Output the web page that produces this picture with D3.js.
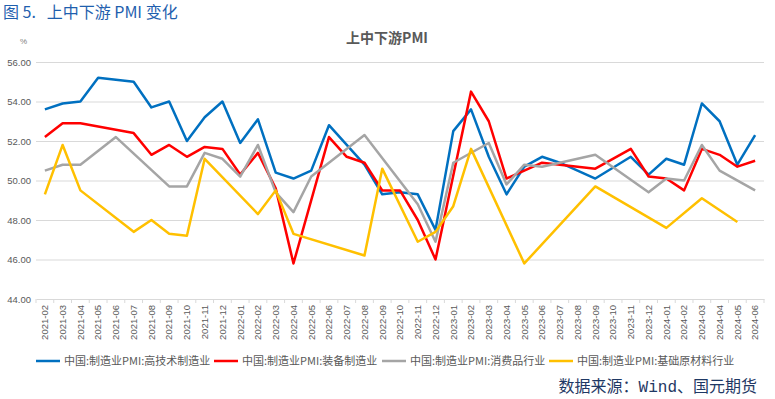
<!DOCTYPE html>
<html>
<head>
<meta charset="utf-8">
<script src="https://cdn.jsdelivr.net/npm/d3@7"></script>
<style>
  body { margin: 0; background: #fff; }
  svg { display: block; }
</style>
</head>
<body>
<div id="chart"></div>
<script>
// months 2021-02 .. 2024-06
const months = [
  "2021-02","2021-03","2021-04","2021-05","2021-06","2021-07","2021-08","2021-09","2021-10","2021-11","2021-12",
  "2022-01","2022-02","2022-03","2022-04","2022-05","2022-06","2022-07","2022-08","2022-09","2022-10","2022-11","2022-12",
  "2023-01","2023-02","2023-03","2023-04","2023-05","2023-06","2023-07","2023-08","2023-09","2023-10","2023-11","2023-12",
  "2024-01","2024-02","2024-03","2024-04","2024-05","2024-06"
];

// null = no value that month (line joins across the gap)
const hiTech = [53.6,53.9,54.0,55.2,null,55.0,53.7,54.0,52.0,53.2,54.0,
  51.9,53.1,50.4,50.1,50.5,52.8,51.8,50.8,49.3,49.4,49.3,47.5,
  52.5,53.6,51.2,49.3,50.7,51.2,50.9,null,50.1,null,51.2,50.3,
  51.1,50.8,53.9,53.0,50.8,52.3];
const equipment = [52.2,52.9,52.9,null,null,52.4,51.3,51.8,51.2,51.7,51.6,
  50.3,51.4,49.6,45.8,null,52.2,51.2,50.9,49.5,49.5,48.0,46.0,
  null,54.5,53.0,50.1,50.5,50.9,50.8,null,50.6,null,51.6,50.2,
  50.1,49.5,51.6,51.3,50.7,51.0];
const consumer = [50.5,50.8,50.8,null,52.2,null,null,49.7,49.7,51.4,51.1,
  50.2,51.8,49.4,48.4,50.2,50.9,null,52.3,null,null,48.8,46.9,
  50.9,null,51.9,49.8,50.8,50.7,null,null,51.3,null,null,49.4,
  50.1,50.0,51.8,50.5,null,49.5];
const rawMaterial = [49.3,51.8,49.5,null,null,47.4,48.0,47.3,47.2,51.1,null,
  null,48.3,49.5,47.3,null,null,null,46.2,50.6,null,46.9,47.4,
  48.7,51.6,null,null,45.8,null,null,null,49.7,null,null,null,
  47.6,null,49.1,null,47.9,null];

const seriesNames = [
  "中国:制造业PMI:高技术制造业",
  "中国:制造业PMI:装备制造业",
  "中国:制造业PMI:消费品行业",
  "中国:制造业PMI:基础原材料行业"
];
const seriesColors = ["#0070c0", "#ff0000", "#a5a5a5", "#ffc000"];
const yTicks = [44, 46, 48, 50, 52, 54, 56];

const W = 775, H = 399;
const plot = {left: 36, right: 764, top: 62, bottom: 299};

const svg = d3.select("#chart").append("svg")
  .attr("width", W).attr("height", H)
  .style("font-family", "'Liberation Sans', 'Noto Sans CJK SC', sans-serif");

const x = d3.scaleBand().domain(months).range([plot.left, plot.right]).paddingInner(0).paddingOuter(0);
const y = d3.scaleLinear().domain([44, 56]).range([plot.bottom, plot.top]);
const cx = m => x(m) + x.bandwidth() / 2;

// page title
svg.append("text")
  .attr("x", 3).attr("y", 18)
  .attr("fill", "#1f5fae")
  .style("font-size", "16px")
  .style("white-space", "pre")
  .style("font-family", "'Noto Sans CJK SC', sans-serif")
  .text("图 5.   上中下游 PMI 变化");

// chart title
svg.append("text")
  .attr("x", 387).attr("y", 43)
  .attr("text-anchor", "middle")
  .attr("fill", "#595959")
  .style("font-size", "14px")
  .style("font-weight", "bold")
  .style("font-family", "'Noto Sans CJK SC', sans-serif")
  .text("上中下游PMI");

svg.append("text")
  .attr("x", 20).attr("y", 44)
  .attr("fill", "#808080")
  .style("font-size", "8px")
  .text("%");

// grid + y axis labels
const yAxis = svg.append("g")
  .attr("transform", `translate(${plot.left},0)`)
  .call(d3.axisLeft(y).tickValues(yTicks).tickSize(-(plot.right - plot.left)).tickPadding(5)
    .tickFormat(d3.format(".2f")));
yAxis.select(".domain").remove();
yAxis.selectAll(".tick line").attr("stroke", "#d9d9d9").attr("stroke-width", 1);
yAxis.selectAll(".tick text").attr("fill", "#595959").style("font-size", "9.5px");
yAxis.selectAll(".tick").filter(d => d === 44).select("line").remove();

// x axis
const xAxis = svg.append("g")
  .attr("transform", `translate(0,${plot.bottom})`)
  .call(d3.axisBottom(x).tickSize(0).tickPadding(0));
xAxis.select(".domain").attr("stroke", "#d9d9d9");
xAxis.selectAll(".tick text")
  .attr("fill", "#595959")
  .style("font-size", "9.5px")
  .attr("text-anchor", "end")
  .attr("transform", "rotate(-90)")
  .attr("x", -6).attr("y", 0).attr("dy", "0.35em");
// tick marks between categories
xAxis.selectAll(".sep").data(months.concat(["end"]))
  .enter().append("line")
  .attr("class", "sep")
  .attr("x1", (d, i) => plot.left + i * x.step())
  .attr("x2", (d, i) => plot.left + i * x.step())
  .attr("y1", 0).attr("y2", 4)
  .attr("stroke", "#d9d9d9");

// lines
const allSeries = [hiTech, equipment, consumer, rawMaterial];
const line = d3.line().x(d => cx(d.m)).y(d => y(d.v));
allSeries.forEach((vals, si) => {
  const pts = months.map((m, i) => ({m: m, v: vals[i]})).filter(d => d.v !== null);
  svg.append("path")
    .datum(pts)
    .attr("fill", "none")
    .attr("stroke", seriesColors[si])
    .attr("stroke-width", 2.5)
    .attr("stroke-linejoin", "round")
    .attr("d", line);
});

// legend
const legendX = [36, 214, 382, 549];
const legend = svg.append("g").attr("transform", "translate(0,361)");
seriesNames.forEach((name, i) => {
  legend.append("line")
    .attr("x1", legendX[i]).attr("x2", legendX[i] + 24)
    .attr("y1", 0).attr("y2", 0)
    .attr("stroke", seriesColors[i]).attr("stroke-width", 2.5);
  legend.append("text")
    .attr("x", legendX[i] + 28).attr("y", 0).attr("dy", "0.35em")
    .attr("fill", "#595959")
    .style("font-size", "11px")
    .style("font-family", "'Noto Sans CJK SC', sans-serif")
    .text(name);
});

// source note
const src = svg.append("text")
  .attr("x", 757).attr("y", 392)
  .attr("text-anchor", "end")
  .attr("fill", "#1f3864")
  .style("font-size", "16px")
  .style("font-family", "'Noto Sans CJK SC', sans-serif");
src.append("tspan").text("数据来源：");
src.append("tspan").style("font-family", "'Liberation Mono', monospace").text("Wind");
src.append("tspan").text("、国元期货");
</script>
</body>
</html>
